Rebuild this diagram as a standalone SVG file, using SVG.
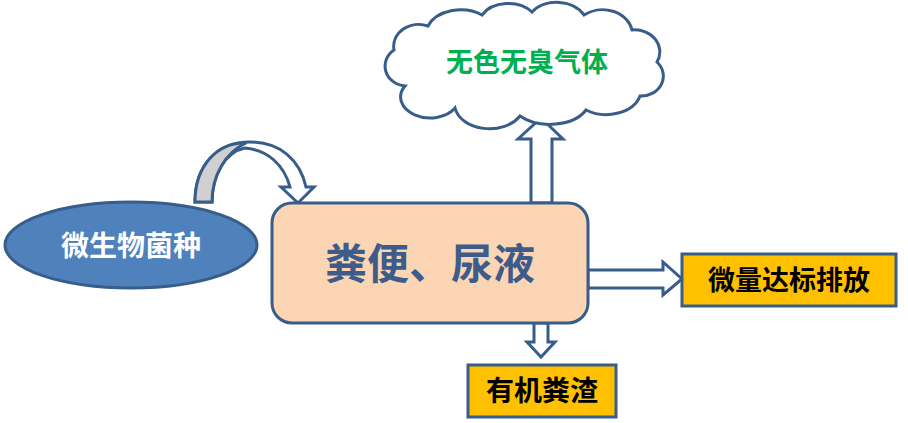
<svg xmlns="http://www.w3.org/2000/svg" width="908" height="423" viewBox="0 0 908 423">
<style>
.ln{stroke:#385D8A;stroke-width:3;stroke-linejoin:miter}
.t{font-family:"Noto Sans CJK SC","Noto Sans",sans-serif;font-weight:bold;text-anchor:middle}
</style>
<rect width="908" height="423" fill="#ffffff"/>
<g id="connectors">
  <path class="ln" fill="#ffffff" d="M195,202 C195,165 218,142 250,142 C280,142 300,160 306,187 L314,187 L298,203 L281,187 L290,187 C284,165 268,150 245,148 C225,152 212,175 212,202 Z"/>
  <path class="ln" fill="#D0D0D0" d="M195,202 C195,165 218,142 246,143 C226,152 212,175 212,202 Z"/>
  <path class="ln" fill="#ffffff" d="M531,203 L531,139 L518,139 L541,118 L563,139 L552,139 L552,203 Z"/>
  <path class="ln" fill="#ffffff" d="M588,270 L663,270 L663,262 L682,279 L663,295 L663,288 L588,288 Z"/>
  <path class="ln" fill="#ffffff" d="M534,323 L534,342 L527,342 L541,357 L555,342 L548,342 L548,323 Z"/>
</g>
<g id="microbe">
  <ellipse class="ln" cx="131" cy="245" rx="126" ry="43" fill="#4F81BD"/>
  <text class="t" x="131" y="256" font-size="28" fill="#ffffff">微生物菌种</text>
</g>
<g id="cloud">
  <path class="ln" fill="#ffffff" d="M405,86 A22,20 0 0 1 394,50 A25,22 0 0 1 428,26 A35,25 0 0 1 482,15 A30,22 0 0 1 532,12 A30,22 0 0 1 584,15 A30,25 0 0 1 632,30 A25,22 0 0 1 657,62 A22,20 0 0 1 640,96 A35,25 0 0 1 586,110 A40,25 0 0 1 520,116 A35,25 0 0 1 455,108 A28,20 0 0 1 405,86 Z"/>
  <text class="t" x="527" y="72" font-size="27" fill="#00B050">无色无臭气体</text>
</g>
<g id="waste">
  <rect class="ln" x="272" y="203" width="316" height="120" rx="20" fill="#FCD5B5"/>
  <text class="t" x="430" y="279" font-size="42" fill="#3E5C8A">粪便、尿液</text>
</g>
<g id="discharge">
  <rect class="ln" x="682" y="254" width="214" height="52" fill="#FFC000"/>
  <text class="t" x="789" y="290" font-size="27" fill="#000000">微量达标排放</text>
</g>
<g id="residue">
  <rect class="ln" x="468" y="365" width="148" height="52" fill="#FFC000"/>
  <text class="t" x="542" y="401" font-size="28" fill="#000000">有机粪渣</text>
</g>
</svg>
